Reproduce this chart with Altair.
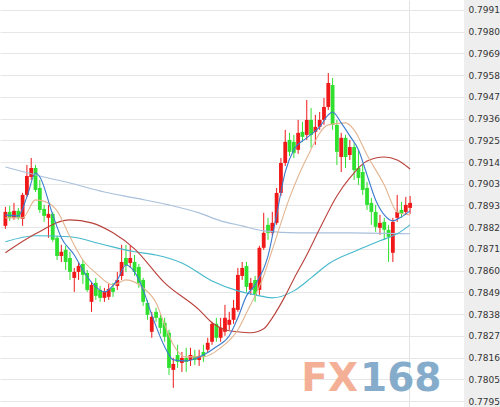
import altair as alt
import pandas as pd

# ---- candle data (OHLC, one bar per period) ----
opens = [0.78828, 0.78898, 0.78868, 0.78903, 0.78863, 0.78983, 0.79073, 0.79118, 0.79018, 0.78913,
         0.78868, 0.78888, 0.78768, 0.78677, 0.78708, 0.78667, 0.78567, 0.78597, 0.78637, 0.78592,
         0.78447, 0.78542, 0.78507, 0.78467, 0.78472, 0.78517, 0.78527, 0.78577, 0.78667, 0.78642,
         0.78647, 0.78622, 0.78557, 0.78442, 0.78297, 0.78397, 0.78367, 0.78342, 0.78292, 0.78106,
         0.78181, 0.78141, 0.78166, 0.78156, 0.78176, 0.78156, 0.78196, 0.78207, 0.78247, 0.78337,
         0.78267, 0.78297, 0.78332, 0.78357, 0.78407, 0.78577, 0.78627, 0.78507, 0.78557, 0.78507,
         0.78718, 0.78833, 0.78793, 0.78843, 0.78993, 0.79143, 0.79259, 0.79249, 0.79209, 0.79299,
         0.79284, 0.79359, 0.79299, 0.79324, 0.79359, 0.79424, 0.79534, 0.79334, 0.79173, 0.79269,
         0.79183, 0.79223, 0.79118, 0.79098, 0.79018, 0.78943, 0.78898, 0.78818, 0.78848, 0.78808,
         0.78693, 0.78868, 0.78908, 0.78898, 0.78918]
closes = [0.78898, 0.78868, 0.78903, 0.78868, 0.78983, 0.79078, 0.79118, 0.79008, 0.78908, 0.78878,
          0.78888, 0.78758, 0.78677, 0.78698, 0.78647, 0.78597, 0.78597, 0.78627, 0.78582, 0.78507,
          0.78532, 0.78477, 0.78467, 0.78497, 0.78512, 0.78497, 0.78557, 0.78647, 0.78632, 0.78667,
          0.78597, 0.78542, 0.78447, 0.78382, 0.78372, 0.78367, 0.78317, 0.78272, 0.78116, 0.78136,
          0.78146, 0.78166, 0.78146, 0.78181, 0.78156, 0.78176, 0.78171, 0.78242, 0.78337, 0.78267,
          0.78317, 0.78367, 0.78357, 0.78417, 0.78582, 0.78617, 0.78522, 0.78542, 0.78482, 0.78718,
          0.78793, 0.78793, 0.78843, 0.78993, 0.79143, 0.79249, 0.79199, 0.79194, 0.79294, 0.79274,
          0.79359, 0.79284, 0.79324, 0.79359, 0.79424, 0.79544, 0.79334, 0.79199, 0.79269, 0.79173,
          0.79223, 0.79108, 0.79068, 0.79008, 0.78933, 0.78898, 0.78823, 0.78843, 0.78808, 0.78773,
          0.78848, 0.78898, 0.78888, 0.78933, 0.78943]
highs = [0.78923, 0.78928, 0.78943, 0.78918, 0.78993, 0.79133, 0.79168, 0.79133, 0.79058, 0.78933,
         0.78933, 0.78898, 0.78778, 0.78733, 0.78728, 0.78698, 0.78617, 0.78647, 0.78657, 0.78607,
         0.78547, 0.78567, 0.78527, 0.78517, 0.78537, 0.78542, 0.78597, 0.78733, 0.78733, 0.78728,
         0.78682, 0.78637, 0.78567, 0.78457, 0.78397, 0.78417, 0.78382, 0.78367, 0.78307, 0.78166,
         0.78232, 0.78196, 0.78217, 0.78217, 0.78207, 0.78207, 0.78232, 0.78267, 0.78347, 0.78367,
         0.78367, 0.78432, 0.78397, 0.78457, 0.78617, 0.78647, 0.78647, 0.78567, 0.78577, 0.78728,
         0.78893, 0.78868, 0.78898, 0.79018, 0.79168, 0.79309, 0.79294, 0.79284, 0.79359, 0.79349,
         0.79459, 0.79419, 0.79384, 0.79399, 0.79469, 0.79594, 0.79569, 0.79359, 0.79294, 0.79284,
         0.79259, 0.79244, 0.79209, 0.79133, 0.79048, 0.78968, 0.78933, 0.78883, 0.78868, 0.78833,
         0.78868, 0.78983, 0.78948, 0.78973, 0.78978]
lows = [0.78813, 0.78853, 0.78858, 0.78858, 0.78828, 0.78973, 0.79058, 0.78998, 0.78893, 0.78848,
        0.78768, 0.78748, 0.78657, 0.78647, 0.78607, 0.78557, 0.78497, 0.78557, 0.78537, 0.78497,
        0.78397, 0.78457, 0.78447, 0.78447, 0.78457, 0.78472, 0.78507, 0.78557, 0.78597, 0.78617,
        0.78577, 0.78517, 0.78427, 0.78357, 0.78267, 0.78347, 0.78287, 0.78247, 0.78081, 0.78016,
        0.78116, 0.78096, 0.78096, 0.78126, 0.78131, 0.78126, 0.78146, 0.78192, 0.78232, 0.78247,
        0.78247, 0.78277, 0.78307, 0.78337, 0.78397, 0.78557, 0.78497, 0.78482, 0.78447, 0.78482,
        0.78708, 0.78758, 0.78778, 0.78833, 0.78978, 0.79128, 0.79178, 0.79168, 0.79189, 0.79249,
        0.79259, 0.79219, 0.79234, 0.79309, 0.79334, 0.79409, 0.79309, 0.79133, 0.79098, 0.79118,
        0.79158, 0.79058, 0.79033, 0.78983, 0.78908, 0.78833, 0.78798, 0.78783, 0.78758, 0.78647,
        0.78647, 0.78848, 0.78868, 0.78883, 0.78888]

# ---- moving-average lines: (bar index, value) ----
ma_fast_idx = [0, 3, 5, 7, 8, 11, 13, 16, 18, 21, 23, 26, 28, 30, 32, 34, 37, 39, 42, 46, 49, 52,
               54, 56, 58, 61, 63, 65, 67, 70, 73, 75, 76, 78, 80, 82, 84, 86, 88, 90, 92, 94]
ma_fast = [0.78883, 0.78878, 0.78973, 0.79093, 0.79073, 0.78883, 0.78768, 0.78682, 0.78607, 0.78522,
           0.78497, 0.78557, 0.78632, 0.78597, 0.78507, 0.78382, 0.78222, 0.78156, 0.78151, 0.78181,
           0.78222, 0.78277, 0.78367, 0.78477, 0.78532, 0.78677, 0.78883, 0.79098, 0.79209, 0.79269,
           0.79324, 0.79384, 0.79399, 0.79344, 0.79279, 0.79209, 0.79083, 0.78958, 0.78883, 0.78853,
           0.78873, 0.78903]

ma_mid_idx = [0, 4, 7, 10, 12, 15, 18, 21, 25, 28, 32, 35, 37, 39, 42, 46, 50, 54, 56, 60, 62, 66,
              70, 75, 79, 81, 84, 88, 91, 94]
ma_mid = [0.78868, 0.78868, 0.78958, 0.78943, 0.78903, 0.78773, 0.78657, 0.78592, 0.78532, 0.78557,
          0.78517, 0.78442, 0.78332, 0.78232, 0.78171, 0.78171, 0.78217, 0.78307, 0.78392, 0.78577,
          0.78708, 0.78968, 0.79168, 0.79334, 0.79344, 0.79309, 0.79183, 0.79033, 0.78898, 0.78883]

ma_slow_idx = [0, 7, 15, 20, 25, 30, 37, 45, 48, 51, 54, 57, 60, 62, 65, 67, 70, 73, 77, 80, 84,
               88, 91, 94]
ma_slow = [0.78693, 0.78788, 0.78858, 0.78843, 0.78793, 0.78713, 0.78542, 0.78407, 0.78342, 0.78307,
           0.78297, 0.78292, 0.78312, 0.78367, 0.78477, 0.78562, 0.78682, 0.78813, 0.78978, 0.79068,
           0.79153, 0.79173, 0.79158, 0.79113]

ma_long_idx = [0, 7, 15, 22, 30, 35, 41, 48, 54, 58, 62, 67, 71, 75, 82, 87, 91, 94]
ma_long = [0.78748, 0.78778, 0.78773, 0.78738, 0.78698, 0.78682, 0.78642, 0.78552, 0.78502, 0.78482,
           0.78467, 0.78502, 0.78567, 0.78637, 0.78708, 0.78753, 0.78788, 0.78833]

ma_base_idx = [0, 8, 15, 23, 30, 38, 45, 50, 55, 60, 68, 80, 94]
ma_base = [0.79123, 0.79078, 0.79043, 0.78998, 0.78968, 0.78933, 0.78893, 0.78853, 0.78828, 0.78803,
           0.78793, 0.78793, 0.78788]

# ---- price axis labels (evenly spaced) ----
tick_labels = ["0.7795", "0.7805", "0.7816", "0.7827", "0.7838", "0.7849", "0.7860", "0.7871",
               "0.7882", "0.7893", "0.7903", "0.7914", "0.7925", "0.7936", "0.7947", "0.7958",
               "0.7969", "0.7980", "0.7991"]

lo_tick, hi_tick = 0.7795, 0.7991
step = (hi_tick - lo_tick) / (len(tick_labels) - 1)
tick_values = [lo_tick + k * step for k in range(len(tick_labels))]
label_expr = ("[" + ",".join("'%s'" % t for t in tick_labels) + "]"
              "[round((datum.value - %.6f) / %.8f)]" % (lo_tick, step))

RED = "#f01818"
GREEN = "#2fe02f"

candles = pd.DataFrame({
    "i": list(range(len(opens))),
    "open": opens, "close": closes, "high": highs, "low": lows,
})
candles["dir"] = ["up" if c >= o else "down" for o, c in zip(opens, closes)]

W, H = 464, 407
x_scale = alt.Scale(domain=[-0.09, 105.36], nice=False, zero=False)
y_scale = alt.Scale(domain=[0.77920, 0.79960], nice=False, zero=False)

x_axis = alt.Axis(values=[93.8], grid=True, gridColor="#e2e2e2", gridWidth=1,
                  labels=False, ticks=False, domain=False, title=None)
y_axis = alt.Axis(orient="right", values=tick_values, labelExpr=label_expr, grid=True,
                  gridColor="#e6e6e6", gridWidth=1, ticks=False, domain=False, title=None,
                  labelFont="DejaVu Sans", labelFontSize=9, labelColor="#333333",
                  labelPadding=4, labelAlign="left", labelBaseline="middle")

color = alt.Color("dir:N", scale=alt.Scale(domain=["up", "down"], range=[RED, GREEN]), legend=None)

wicks = alt.Chart(candles).mark_rule(strokeWidth=1).encode(
    x=alt.X("i:Q", scale=x_scale, axis=x_axis),
    y=alt.Y("low:Q", scale=y_scale, axis=y_axis),
    y2="high:Q",
    color=color,
)

bodies = alt.Chart(candles).mark_bar(size=3.8).encode(
    x=alt.X("i:Q", scale=x_scale, axis=x_axis),
    y=alt.Y("open:Q", scale=y_scale, axis=y_axis),
    y2="close:Q",
    color=color,
)


def ma_line(idx, vals, stroke, width=1.1):
    df = pd.DataFrame({"i": idx, "v": vals})
    return alt.Chart(df).mark_line(color=stroke, strokeWidth=width, interpolate="monotone").encode(
        x=alt.X("i:Q", scale=x_scale, axis=x_axis),
        y=alt.Y("v:Q", scale=y_scale, axis=y_axis),
    )


lines = [
    ma_line(ma_base_idx, ma_base, "#a9c0dc"),
    ma_line(ma_long_idx, ma_long, "#46b9cc"),
    ma_line(ma_slow_idx, ma_slow, "#b9403a"),
    ma_line(ma_mid_idx, ma_mid, "#e3b48e"),
    ma_line(ma_fast_idx, ma_fast, "#3c7bcf"),
]

# FX168 watermark in the lower right corner
logo_fx = alt.Chart(candles).transform_filter("datum.i == 0").mark_text(
    font="DejaVu Sans", fontWeight="bold", fontSize=39, align="right",
    baseline="alphabetic", color="#f3a88c", opacity=0.9,
).encode(x=alt.value(358), y=alt.value(391), text=alt.value("FX"))

logo_num = alt.Chart(candles).transform_filter("datum.i == 0").mark_text(
    font="DejaVu Sans", fontWeight="bold", fontSize=39, align="left",
    baseline="alphabetic", color="#78a4c6", opacity=0.9,
).encode(x=alt.value(360), y=alt.value(391), text=alt.value("168"))

chart = alt.layer(wicks, bodies, *lines, logo_fx, logo_num).properties(
    width=W, height=H,
    padding={"left": 0, "top": 0, "right": 36, "bottom": 0},
    autosize=alt.AutoSizeParams(type="none"),
    background="#eeeeee",
).configure_view(stroke=None, fill="#ffffff")

chart.save("out.html", embed_options={"renderer": "svg", "actions": False})
